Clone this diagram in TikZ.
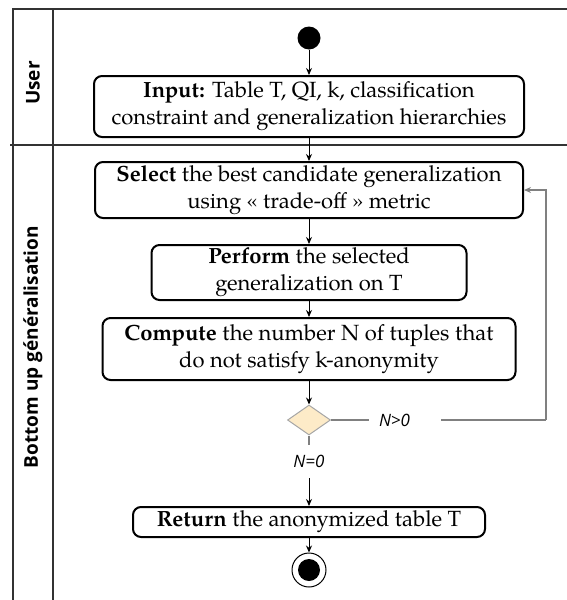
\documentclass[tikz,border=0pt]{standalone}
\usepackage{fontspec}
\newfontfamily\lanefont{Open Sans}
\newfontfamily\actfamily{texgyrepagella}[Extension=.otf, UprightFont=*-regular, BoldFont=*-bold]
\usetikzlibrary{shapes.geometric,arrows.meta}
\newcommand\actfont{\actfamily\fontsize{22}{27}\selectfont}
\definecolor{decfill}{RGB}{253,235,200}
\begin{document}
\begin{tikzpicture}[x=1pt, y=-1pt, >={Stealth[length=7pt,width=6pt]},
	act/.style={draw, line width=2pt, rounded corners=8pt, align=center, font=\actfont, inner sep=0pt},
	init/.style={circle, fill=black, inner sep=0pt, minimum size=23pt},
	fin/.style={circle, draw, fill=white, line width=1pt, inner sep=0pt, minimum size=34pt},
	dec/.style={diamond, draw=black!35, fill=decfill, line width=1pt, inner sep=0pt, minimum width=43pt, minimum height=30pt},
	lbl/.style={font=\lanefont\itshape\fontsize{17}{19}\selectfont, inner sep=0pt},
	lanetxt/.style={font=\lanefont\bfseries\fontsize{19}{21}\selectfont, rotate=90},
	lane/.style={line width=1.6pt, black!80},
	conn/.style={->, line width=1pt},
	back/.style={line width=1.2pt, black!50}]

	\useasboundingbox (0,0) rectangle (567,600);
	\draw[lane] (13,600) -- (13,9) -- (567,9);
	\draw[lane] (53,9) -- (53,600);
	\draw[lane] (10,145) -- (567,145);

	\node[lanetxt] (user) at (33,83) {User};
	\node[lanetxt] (bottom) at (33,347) {Bottom up généralisation};

	\node[init] (start) at (309,38) {};
	\node[act, minimum width=430pt, minimum height=61pt] (input) at (309,106.5) {\textbf{Input:} Table T, QI, k, classification\\constraint and generalization hierarchies};
	\node[act, minimum width=428pt, minimum height=56pt] (select) at (309,190) {\textbf{Select} the best candidate generalization\\using « trade-off » metric};
	\node[act, minimum width=315pt, minimum height=55pt] (perform) at (309,272.5) {\textbf{Perform} the selected\\generalization on T};
	\node[act, minimum width=413pt, minimum height=62pt] (compute) at (309,349) {\textbf{Compute} the number N of tuples that\\do not satisfy k-anonymity};
	\node[dec] (test) at (309,420) {};
	\node[lbl, text width=52pt, inner xsep=10pt, align=left] (pos) at (405,420) {N>0};
	\node[lbl, minimum height=33pt] (zero) at (309,461.5) {N=0};
	\node[act, minimum width=352pt, minimum height=30pt] (ret) at (309,522) {\textbf{Return} the anonymized table T};
	\node[fin] (stop) at (309,570) {};
	\node[init, minimum size=22pt] (stopdot) at (stop) {};
	\coordinate (turn) at (546,420);

	\draw[conn] (start) -- (input);
	\draw[conn] (input) -- (select);
	\draw[conn] (select) -- (perform);
	\draw[conn] (perform) -- (compute);
	\draw[conn] (compute) -- (test);
	\draw[back] (test.east) -- (pos.west);
	\draw[back] (pos.east) -- (turn);
	\draw[back, ->] (turn) |- (select.east);
	\draw[back] (test.south) -- (zero.north);
	\draw[conn] (zero.south) -- (ret.north);
	\draw[conn] (ret) -- (stop);
\end{tikzpicture}
\end{document}
